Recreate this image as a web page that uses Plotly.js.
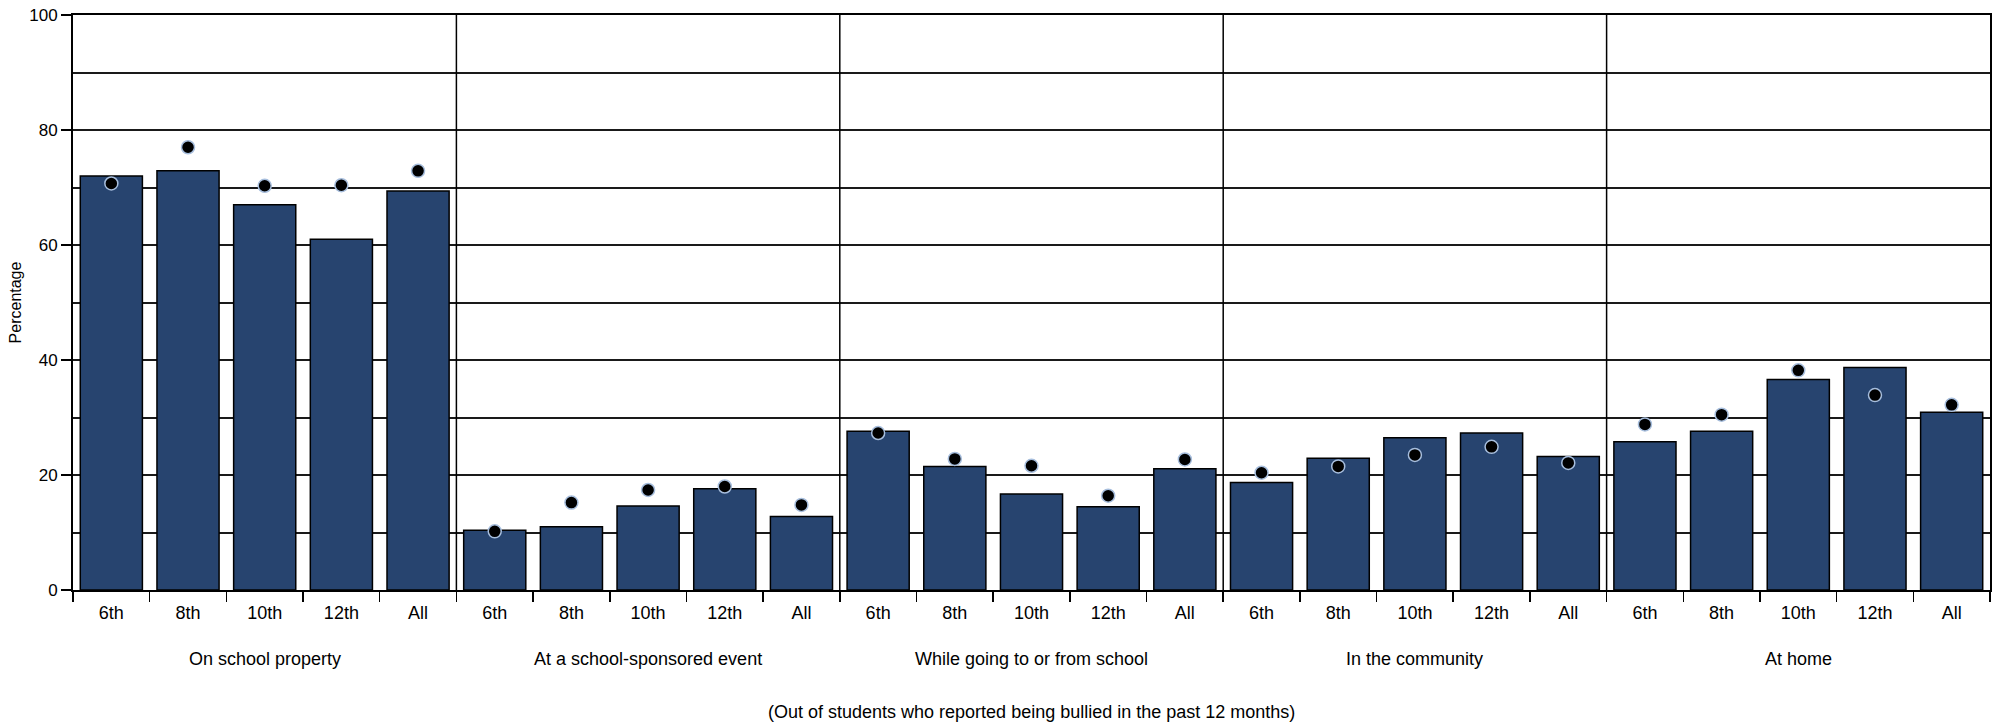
<!DOCTYPE html>
<html>
<head>
<meta charset="utf-8">
<script src="https://cdn.plot.ly/plotly-3.0.1.min.js"></script>
<style>
  html, body { margin: 0; padding: 0; background: #fff; }
  #chart { width: 1999px; height: 726px; }
</style>
</head>
<body>
<div id="chart"></div>
<script>
// ---- Data ----
const grades = ['6th', '8th', '10th', '12th', 'All'];
const locations = ['On school property', 'At a school-sponsored event', 'While going to or from school', 'In the community', 'At home'];

// Bar values (percentage) per location, in grade order
const barsOnSchoolProperty = [72.0, 72.9, 67.0, 61.0, 69.4];
const barsSchoolEvent      = [10.4, 11.0, 14.6, 17.6, 12.8];
const barsGoingToFrom      = [27.6, 21.5, 16.7, 14.5, 21.1];
const barsCommunity        = [18.7, 22.9, 26.5, 27.3, 23.2];
const barsHome             = [25.8, 27.6, 36.6, 38.7, 30.9];

// Dot values (percentage) per location, in grade order
const dotsOnSchoolProperty = [70.7, 77.0, 70.3, 70.4, 72.9];
const dotsSchoolEvent      = [10.2, 15.2, 17.4, 18.0, 14.8];
const dotsGoingToFrom      = [27.3, 22.8, 21.6, 16.4, 22.7];
const dotsCommunity        = [20.4, 21.5, 23.5, 24.9, 22.1];
const dotsHome             = [28.8, 30.5, 38.2, 33.9, 32.2];

const yTickVals = [0, 20, 40, 60, 80, 100];
const yTitle = 'Percentage';
const footnote = '(Out of students who reported being bullied in the past 12 months)';

// ---- Build ----
const barGroups = [barsOnSchoolProperty, barsSchoolEvent, barsGoingToFrom, barsCommunity, barsHome];
const dotGroups = [dotsOnSchoolProperty, dotsSchoolEvent, dotsGoingToFrom, dotsCommunity, dotsHome];

const keys = [], labels = [], barY = [], dotY = [];
locations.forEach((loc, g) => {
  grades.forEach((gr, i) => {
    keys.push(loc + ' | ' + gr);
    labels.push(gr);
    barY.push(barGroups[g][i]);
    dotY.push(dotGroups[g][i]);
  });
});

const FONT = '"Liberation Sans", Arial, sans-serif';
const n = grades.length;

const traces = [
  {
    type: 'bar', x: keys, y: barY, name: 'Bars',
    marker: { color: '#27446f', line: { color: '#000', width: 1.5 } },
    hoverinfo: 'x+y'
  },
  {
    type: 'scatter', mode: 'markers', x: keys, y: dotY, name: 'Dots',
    marker: { color: '#000', size: 13, line: { color: '#a7bedd', width: 1.5 } },
    hoverinfo: 'x+y'
  }
];

const shapes = [];
for (let g = 1; g < locations.length; g++) {
  shapes.push({
    type: 'line', xref: 'x', yref: 'paper',
    x0: g * n - 0.5, x1: g * n - 0.5, y0: 0, y1: 1,
    line: { color: '#000', width: 1.5 }, layer: 'above'
  });
}

const annotations = locations.map((loc, g) => ({
  text: loc, xref: 'x', yref: 'paper',
  x: g * n + (n - 1) / 2, y: 0, yshift: -69,
  xanchor: 'center', yanchor: 'middle', showarrow: false,
  font: { family: FONT, size: 18, color: '#000' }
}));
annotations.push({
  text: footnote, xref: 'paper', yref: 'paper',
  x: 0.5, y: 0, yshift: -122,
  xanchor: 'center', yanchor: 'middle', showarrow: false,
  font: { family: FONT, size: 18, color: '#000' }
});

const layout = {
  width: 1999, height: 726,
  margin: { l: 73, r: 9, t: 15, b: 136 },
  paper_bgcolor: '#fff', plot_bgcolor: '#fff',
  showlegend: false,
  bargap: 0.19,
  font: { family: FONT, size: 17, color: '#000' },
  xaxis: {
    type: 'category',
    tickmode: 'array', tickvals: keys, ticktext: labels,
    tickson: 'boundaries',
    ticks: 'outside', ticklen: 10, tickwidth: 1.5, tickcolor: '#000',
    ticklabelstandoff: 5,
    showgrid: false, zeroline: false,
    showline: true, linecolor: '#000', linewidth: 2, mirror: true,
    tickfont: { family: FONT, size: 18, color: '#000' },
    range: [-0.5, keys.length - 0.5]
  },
  yaxis: {
    range: [0, 100],
    tickmode: 'array', tickvals: yTickVals,
    ticks: 'outside', ticklen: 10, tickwidth: 1.5, tickcolor: '#000',
    showgrid: true, gridcolor: '#1a1a1a', gridwidth: 2,
    minor: { dtick: 10, showgrid: true, gridcolor: '#1a1a1a', gridwidth: 2, ticks: '' },
    zeroline: false,
    showline: true, linecolor: '#000', linewidth: 2, mirror: true,
    tickfont: { family: FONT, size: 17, color: '#000' },
    title: { text: yTitle, font: { family: FONT, size: 16, color: '#000' }, standoff: 4 }
  },
  shapes: shapes,
  annotations: annotations
};

Plotly.newPlot('chart', traces, layout, { displayModeBar: false, staticPlot: true });
</script>
</body>
</html>
